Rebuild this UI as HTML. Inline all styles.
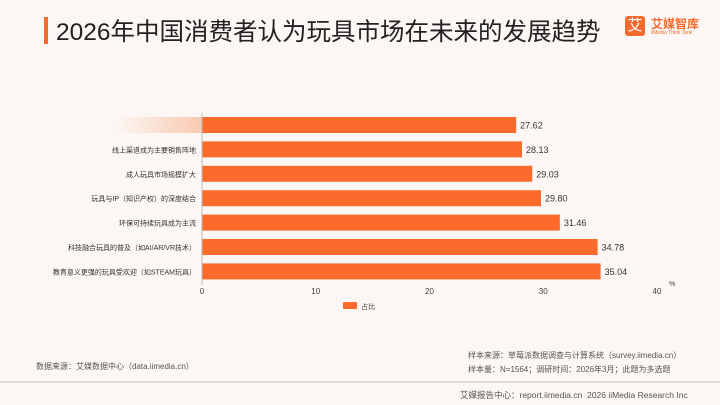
<!DOCTYPE html>
<html><head><meta charset="utf-8"><style>
body{margin:0;width:720px;height:405px;background:#fcf7f4;font-family:"Liberation Sans","Noto Sans CJK SC",sans-serif;position:relative;overflow:hidden}
.t{position:absolute;white-space:nowrap}
</style></head><body>
<div class="t" style="left:44px;top:17px;width:4px;height:27px;background:#f26a2c"></div>
<div class="t" style="left:56px;top:13px;font-size:24.5px;color:#222">2026年中国消费者认为玩具市场在未来的发展趋势</div>
<div class="t" style="left:625px;top:16px;width:20px;height:20px;background:#f26a2c;border-radius:3px;color:#fff;font-size:15px;text-align:center;line-height:20px">艾</div>
<div class="t" style="left:651px;top:15px;font-size:12px;color:#f26a2c;font-weight:bold">艾媒智库</div>
<div class="t" style="left:651px;top:30px;font-size:5px;color:#f26a2c">iiMedia Think Tank</div>
<svg id="chart" width="720" height="405" style="position:absolute;left:0;top:0">
<defs><linearGradient id="fade" x1="0" x2="1"><stop offset="0" stop-color="#fcf7f4"/><stop offset="1" stop-color="#f8c9b0"/></linearGradient></defs>
<rect x="115" y="117" width="87" height="16" fill="url(#fade)"/>
</svg>
<div class="t" style="left:36px;top:361px;font-size:8px;color:#555">数据来源：艾媒数据中心（data.iimedia.cn）</div>
<div class="t" style="left:468px;top:350px;font-size:8px;color:#555">样本来源：草莓派数据调查与计算系统（survey.iimedia.cn）</div>
<div class="t" style="left:468px;top:364px;font-size:8px;color:#555">样本量：N=1564；调研时间：2026年3月；此题为多选题</div>
<div class="t" style="left:0;top:381px;width:720px;height:2px;background:#ddd"></div>
<div class="t" style="left:460px;top:389px;font-size:8.5px;color:#555">艾媒报告中心：report.iimedia.cn&nbsp;&nbsp;2026 iiMedia Research Inc</div>
<script>
const categories=["","线上渠道成为主要销售阵地","成人玩具市场规模扩大","玩具与IP（知识产权）的深度结合","环保可持续玩具成为主流","科技融合玩具的普及（如AI/AR/VR技术）","教育意义更强的玩具受欢迎（如STEAM玩具）"];
const values=[27.62,28.13,29.03,29.80,31.46,34.78,35.04];
const ticks=[0,10,20,30,40];
const svg=document.getElementById('chart');const NS='http://www.w3.org/2000/svg';
const x=v=>202+v*(657-202)/40;
const y=i=>117+i*24.4;
function mk(t,a){const e=document.createElementNS(NS,t);for(const k in a)e.setAttribute(k,a[k]);svg.appendChild(e);return e;}
values.forEach((v,i)=>{
 const r=mk('rect',{x:x(0),y:y(i),width:x(v)-x(0),height:16,fill:'#fd6b2c'});
 
 
 const l=mk('text',{x:x(v)+4,y:y(i)+11.5,'font-size':9,fill:'#333'});l.textContent=v.toFixed(2);
 
 
 const c=mk('text',{x:196,y:y(i)+11,'font-size':7,fill:'#333','text-anchor':'end'});c.textContent=categories[i];
 
 
});
const ax=mk('line',{x1:x(0),x2:x(0),y1:113,y2:285,stroke:'#bbb','stroke-width':1});


ticks.forEach(t=>{const e=mk('text',{x:x(t),y:294,'font-size':8,fill:'#444','text-anchor':'middle'});e.textContent=t;
 
 });
const u=mk('text',{x:669,y:286,'font-size':7,fill:'#444'});u.textContent='%';


const lg=mk('rect',{x:343,y:302,width:14,height:7,rx:1,fill:'#fd6b2c'});


const lt=mk('text',{x:361,y:309,'font-size':7,fill:'#444'});lt.textContent='占比';


</script>
</body></html>
